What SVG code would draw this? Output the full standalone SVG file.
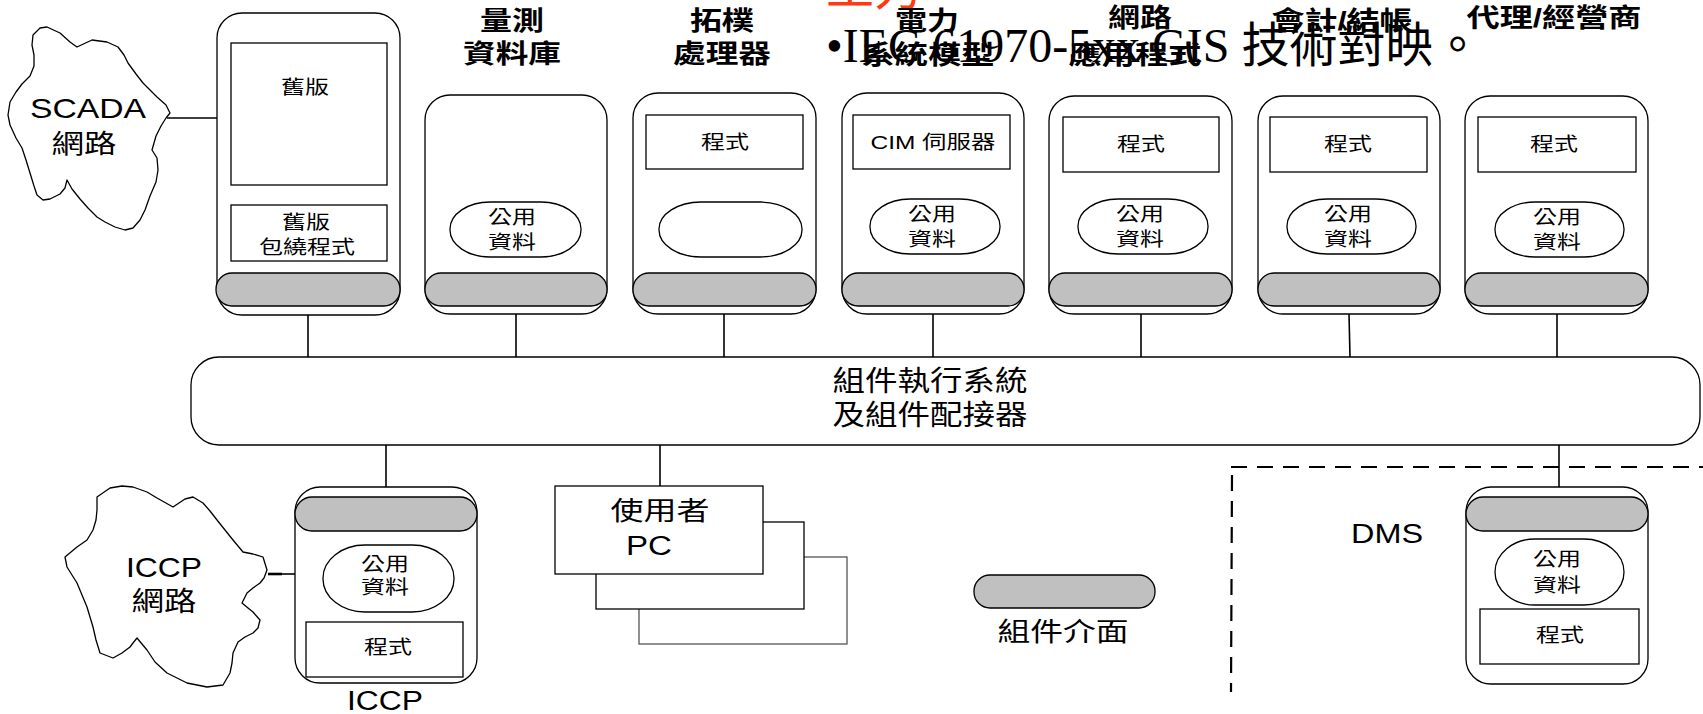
<svg xmlns="http://www.w3.org/2000/svg" width="1703" height="714" viewBox="0 0 1703 714">
<style>
.n{fill:#fff;stroke:#000;stroke-width:1.3}
.g{fill:#c0c0c0;stroke:#000;stroke-width:1.3}
.b{fill:#fff;stroke:#000;stroke-width:1.3}
.c{stroke:#000;stroke-width:1.6;fill:none}
.cl{fill:#fff;stroke:#000;stroke-width:1.3;stroke-linejoin:round}
.t{font-family:"Liberation Sans","Noto Sans CJK TC",sans-serif;text-anchor:middle;fill:#000}
.h{font-weight:bold;font-size:26px}
.s{font-size:19px}
.m{font-size:27px}
.sp{lengthAdjust:spacingAndGlyphs}
</style>
<rect width="1703" height="714" fill="#fff"/>

<g id="title">
<text x="826" y="5" font-family="'Noto Sans CJK TC',sans-serif" font-size="48" fill="#ff3a10">工力</text>
<text x="826" y="62" font-family="'Liberation Serif','Noto Sans CJK TC',serif" font-size="48" fill="#000">•IEC 61970-5xx GIS 技術對映。</text>
</g>

<g id="connectors">
<line class="c" x1="167" y1="118" x2="231" y2="118"/>
<line class="c" x1="308" y1="315" x2="308" y2="357"/>
<line class="c" x1="516" y1="314" x2="516" y2="357"/>
<line class="c" x1="724" y1="314" x2="724" y2="357"/>
<line class="c" x1="933" y1="314" x2="933" y2="357"/>
<line class="c" x1="1141" y1="314" x2="1141" y2="357"/>
<line class="c" x1="1349" y1="314" x2="1350" y2="357"/>
<line class="c" x1="1557" y1="314" x2="1557" y2="357"/>
<line class="c" x1="386" y1="445" x2="386" y2="487"/>
<line class="c" x1="660" y1="445" x2="660" y2="486"/>
<line class="c" x1="1559" y1="445" x2="1559" y2="487"/>
<line x1="268" y1="574" x2="282" y2="574" stroke="#000" stroke-width="2.6"/>
<line class="c" x1="282" y1="574" x2="295" y2="574"/>
</g>

<g id="dms-boundary" fill="none" stroke="#000" stroke-width="2.2" stroke-dasharray="16 10">
<line x1="1231" y1="467" x2="1703" y2="467"/>
<line x1="1232" y1="475" x2="1231" y2="692"/>
</g>

<g id="scada-cloud">
<path class="cl" d="M33,35 L40,28 L47,27 L60,33 L70,42 L77,47 L92,40 L107,42 L118,47 L124,55 L128,63 L136,74 L143,83 L150,90 L157,97 L166,105 L170,113 L166,118 L161,126 L156,136 L152,150 L157,158 L158,170 L156,182 L150,196 L145,210 L140,220 L133,228 L125,230 L115,227 L105,222 L97,217 L88,208 L80,199 L72,189 L67,180 L65,188 L60,194 L50,199 L43,200 L37,195 L34,186 L30,173 L26,160 L22,148 L16,138 L10,125 L8,115 L10,102 L16,92 L22,84 L30,76 L34,66 L34,55 L32,45 Z"/>
<text class="t" font-size="28" x="88" y="118" textLength="116" lengthAdjust="spacingAndGlyphs">SCADA</text>
<text class="t" font-size="26" x="84" y="153" textLength="65" lengthAdjust="spacingAndGlyphs">網路</text>
</g>

<g id="node-legacy">
<rect class="n" x="217" y="13" width="183" height="302" rx="25" ry="25"/>
<rect class="b" x="231" y="43" width="156" height="142"/>
<text class="t s" x="305" y="94" textLength="48" lengthAdjust="spacingAndGlyphs">舊版</text>
<rect class="b" x="231" y="205" width="156" height="56"/>
<text class="t s" x="306" y="229" textLength="48" lengthAdjust="spacingAndGlyphs">舊版</text>
<text class="t s" x="307" y="254" textLength="96" lengthAdjust="spacingAndGlyphs">包繞程式</text>
<rect class="g" x="216" y="273" width="184" height="33" rx="16" ry="16"/>
</g>

<g id="node-measurement">
<text class="t h" x="512" y="30" textLength="64" lengthAdjust="spacingAndGlyphs">量測</text>
<text class="t h" x="512" y="63" textLength="98" lengthAdjust="spacingAndGlyphs">資料庫</text>
<rect class="n" x="425" y="95" width="182" height="219" rx="25" ry="25"/>
<rect class="b" x="450" y="202" width="131" height="55" rx="40" ry="27"/>
<text class="t s" x="512" y="224" textLength="48" lengthAdjust="spacingAndGlyphs">公用</text>
<text class="t s" x="512" y="249" textLength="48" lengthAdjust="spacingAndGlyphs">資料</text>
<rect class="g" x="425" y="273" width="182" height="33" rx="16" ry="16"/>
</g>

<g id="node-topology">
<text class="t h" x="722" y="30" textLength="64" lengthAdjust="spacingAndGlyphs">拓樸</text>
<text class="t h" x="722" y="63" textLength="98" lengthAdjust="spacingAndGlyphs">處理器</text>
<rect class="n" x="633" y="93" width="183" height="221" rx="25" ry="25"/>
<rect class="b" x="646" y="115" width="157" height="54"/>
<text class="t s" x="725" y="149" textLength="48" lengthAdjust="spacingAndGlyphs">程式</text>
<rect class="b" x="659" y="202" width="143" height="55" rx="42" ry="27"/>
<rect class="g" x="633" y="273" width="183" height="33" rx="16" ry="16"/>
</g>

<g id="node-power-model">
<text class="t h" x="927" y="30" textLength="64" lengthAdjust="spacingAndGlyphs">電力</text>
<text class="t h" x="928" y="64" textLength="133" lengthAdjust="spacingAndGlyphs">系統模型</text>
<rect class="n" x="842" y="93" width="182" height="221" rx="25" ry="25"/>
<rect class="b" x="853" y="115" width="157" height="54"/>
<text class="t s" x="933" y="149" textLength="125" lengthAdjust="spacingAndGlyphs">CIM 伺服器</text>
<rect class="b" x="870" y="199" width="130" height="55" rx="40" ry="27"/>
<text class="t s" x="932" y="221" textLength="48" lengthAdjust="spacingAndGlyphs">公用</text>
<text class="t s" x="932" y="246" textLength="48" lengthAdjust="spacingAndGlyphs">資料</text>
<rect class="g" x="842" y="273" width="182" height="33" rx="16" ry="16"/>
</g>

<g id="node-network-app">
<text class="t h" x="1140" y="27" textLength="64" lengthAdjust="spacingAndGlyphs">網路</text>
<text class="t h" x="1135" y="64" textLength="133" lengthAdjust="spacingAndGlyphs">應用程式</text>
<rect class="n" x="1049" y="96" width="183" height="218" rx="25" ry="25"/>
<rect class="b" x="1063" y="117" width="156" height="55"/>
<text class="t s" x="1141" y="151" textLength="48" lengthAdjust="spacingAndGlyphs">程式</text>
<rect class="b" x="1078" y="199" width="130" height="55" rx="40" ry="27"/>
<text class="t s" x="1140" y="221" textLength="48" lengthAdjust="spacingAndGlyphs">公用</text>
<text class="t s" x="1140" y="246" textLength="48" lengthAdjust="spacingAndGlyphs">資料</text>
<rect class="g" x="1049" y="273" width="183" height="33" rx="16" ry="16"/>
</g>

<g id="node-accounting">
<text class="t h" x="1342" y="30" textLength="141" lengthAdjust="spacingAndGlyphs">會計/結帳</text>
<rect class="n" x="1258" y="96" width="182" height="218" rx="25" ry="25"/>
<rect class="b" x="1270" y="117" width="157" height="55"/>
<text class="t s" x="1348" y="151" textLength="48" lengthAdjust="spacingAndGlyphs">程式</text>
<rect class="b" x="1287" y="199" width="129" height="55" rx="40" ry="27"/>
<text class="t s" x="1348" y="221" textLength="48" lengthAdjust="spacingAndGlyphs">公用</text>
<text class="t s" x="1348" y="246" textLength="48" lengthAdjust="spacingAndGlyphs">資料</text>
<rect class="g" x="1258" y="273" width="182" height="33" rx="16" ry="16"/>
</g>

<g id="node-agent">
<text class="t h" x="1554" y="27" textLength="175" lengthAdjust="spacingAndGlyphs">代理/經營商</text>
<rect class="n" x="1465" y="96" width="183" height="218" rx="25" ry="25"/>
<rect class="b" x="1478" y="117" width="158" height="55"/>
<text class="t s" x="1554" y="151" textLength="48" lengthAdjust="spacingAndGlyphs">程式</text>
<rect class="b" x="1495" y="202" width="129" height="55" rx="40" ry="27"/>
<text class="t s" x="1557" y="224" textLength="48" lengthAdjust="spacingAndGlyphs">公用</text>
<text class="t s" x="1557" y="249" textLength="48" lengthAdjust="spacingAndGlyphs">資料</text>
<rect class="g" x="1465" y="273" width="183" height="33" rx="16" ry="16"/>
</g>

<g id="bus">
<rect class="n" x="191" y="357" width="1509" height="88" rx="28" ry="28"/>
<text class="t" font-size="28" x="930" y="391" textLength="195" lengthAdjust="spacingAndGlyphs">組件執行系統</text>
<text class="t" font-size="28" x="930" y="425" textLength="195" lengthAdjust="spacingAndGlyphs">及組件配接器</text>
</g>

<g id="iccp-cloud">
<path class="cl" d="M97,497 L110,488 L122,486 L133,487 L147,492 L157,498 L173,507 L185,499 L193,497 L203,503 L210,511 L217,520 L225,530 L233,540 L243,552 L253,554 L263,557 L267,570 L264,578 L260,583 L253,588 L247,593 L242,603 L248,608 L253,612 L260,620 L258,628 L253,633 L245,637 L238,642 L233,653 L232,663 L230,673 L223,685 L207,687 L187,683 L167,673 L155,662 L147,650 L137,638 L133,643 L130,647 L122,653 L113,658 L100,653 L96,640 L93,627 L87,607 L82,595 L77,583 L67,567 L65,557 L77,547 L87,540 L93,530 L96,520 L97,510 Z"/>
<text class="t" font-size="28" x="164" y="577" textLength="76" lengthAdjust="spacingAndGlyphs">ICCP</text>
<text class="t" font-size="27" x="164" y="611" textLength="65" lengthAdjust="spacingAndGlyphs">網路</text>
</g>

<g id="node-iccp">
<rect class="n" x="295" y="487" width="182" height="196" rx="25" ry="25"/>
<rect class="g" x="295" y="497" width="182" height="34" rx="17" ry="17"/>
<rect class="b" x="323" y="545" width="131" height="67" rx="42" ry="33"/>
<text class="t s" x="385" y="571" textLength="48" lengthAdjust="spacingAndGlyphs">公用</text>
<text class="t s" x="385" y="594" textLength="48" lengthAdjust="spacingAndGlyphs">資料</text>
<rect class="b" x="306" y="622" width="157" height="55"/>
<text class="t s" x="388" y="654" textLength="48" lengthAdjust="spacingAndGlyphs">程式</text>
<text class="t" font-size="27" x="385" y="710" textLength="76" lengthAdjust="spacingAndGlyphs">ICCP</text>
</g>

<g id="node-user-pc">
<rect x="639" y="557" width="208" height="87" fill="#fff" stroke="#555" stroke-width="1.3"/>
<rect class="b" x="596" y="522" width="208" height="87"/>
<rect class="b" x="555" y="486" width="208" height="88"/>
<text class="t" font-size="26" x="660" y="520" textLength="99" lengthAdjust="spacingAndGlyphs">使用者</text>
<text class="t" font-size="27" x="649" y="555" textLength="46" lengthAdjust="spacingAndGlyphs">PC</text>
</g>

<g id="legend-interface">
<rect class="g" x="974" y="575" width="181" height="33" rx="16" ry="16"/>
<text class="t" font-size="26" x="1063" y="641" textLength="131" lengthAdjust="spacingAndGlyphs">組件介面</text>
</g>

<g id="node-dms">
<text class="t" font-size="28" x="1387" y="543" textLength="72" lengthAdjust="spacingAndGlyphs">DMS</text>
<rect class="n" x="1466" y="487" width="182" height="197" rx="25" ry="25"/>
<rect class="g" x="1466" y="497" width="182" height="34" rx="17" ry="17" stroke-width="2.2"/>
<rect class="b" x="1495" y="539" width="129" height="66" rx="40" ry="33"/>
<text class="t s" x="1557" y="566" textLength="48" lengthAdjust="spacingAndGlyphs">公用</text>
<text class="t s" x="1557" y="592" textLength="48" lengthAdjust="spacingAndGlyphs">資料</text>
<rect class="b" x="1480" y="609" width="159" height="55"/>
<text class="t s" x="1560" y="642" textLength="48" lengthAdjust="spacingAndGlyphs">程式</text>
</g>
</svg>
